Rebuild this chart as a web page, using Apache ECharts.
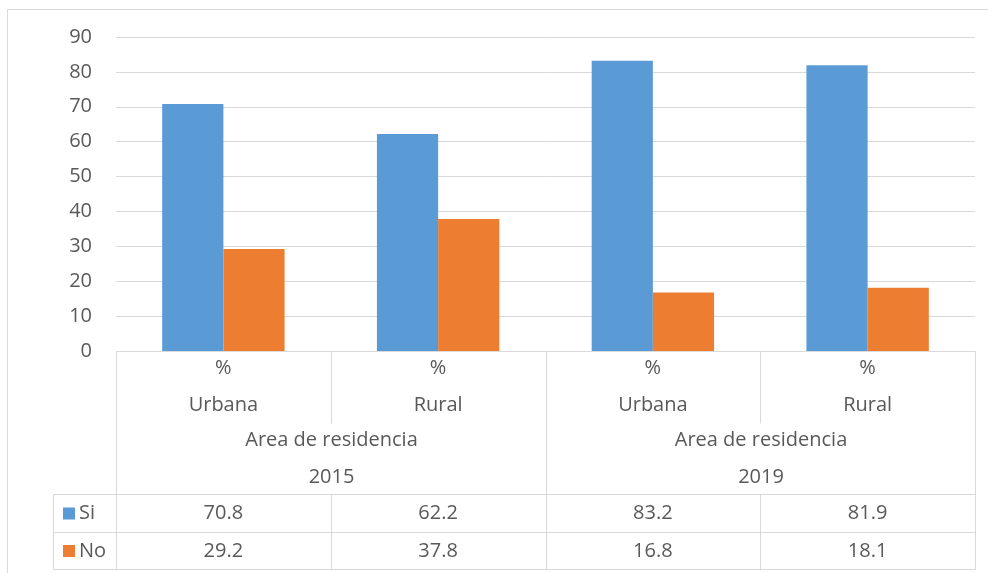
<!DOCTYPE html>
<html><head><meta charset="utf-8">
<script src="https://cdn.jsdelivr.net/npm/echarts@6/dist/echarts.min.js"></script>
<style>html,body{margin:0;padding:0;background:#fff}#c{width:988px;height:573px}</style>
</head><body><div id="c"></div>
<script>
// ---- data ----
const categories = ['Urbana', 'Rural', 'Urbana', 'Rural'];
const units = ['%', '%', '%', '%'];
const groupTitle = 'Area de residencia';
const years = ['2015', '2019'];
const seriesNames = ['Si', 'No'];
const siValues = [70.8, 62.2, 83.2, 81.9];
const noValues = [29.2, 37.8, 16.8, 18.1];
const yMin = 0, yMax = 90, yInterval = 10;

// ---- style ----
const colors = ['#5B9BD5', '#ED7D31'];
const textColor = '#595959';
const lineColor = '#D9D9D9';
const FONT = '20px "Open Sans", "Noto Sans", sans-serif';

const chart = echarts.init(document.getElementById('c'), null, {renderer: 'canvas'});
const grid = {left: 116, right: 13, top: 37, bottom: 222};

const option = {
  animation: false,
  backgroundColor: '#fff',
  grid: grid,
  xAxis: {
    type: 'category', data: categories,
    axisLine: {show: false}, axisTick: {show: false}, axisLabel: {show: false}
  },
  yAxis: {
    type: 'value', min: yMin, max: yMax, interval: yInterval,
    axisLine: {show: false}, axisTick: {show: false},
    axisLabel: {color: textColor, fontSize: 20, fontFamily: '"Open Sans", "Noto Sans", sans-serif', margin: 24},
    splitLine: {lineStyle: {color: lineColor, width: 1}}
  },
  series: [
    {name: seriesNames[0], type: 'bar', data: siValues, itemStyle: {color: colors[0]}, barGap: '0%', barCategoryGap: '43%'},
    {name: seriesNames[1], type: 'bar', data: noValues, itemStyle: {color: colors[1]}, barGap: '0%', barCategoryGap: '43%'}
  ]
};
chart.setOption(option);

// ---- data table drawn below the plot ----
const g = [];
function line(x1, y1, x2, y2) {
  g.push({type: 'line', silent: true, shape: {x1: x1, y1: y1, x2: x2, y2: y2},
    style: {stroke: lineColor, lineWidth: 1}});
}
function text(t, x, y, align) {
  g.push({type: 'text', silent: true, x: x, y: y,
    style: {text: t, fill: textColor, font: FONT, align: align || 'center', verticalAlign: 'middle',
      textAlign: align || 'center', textVerticalAlign: 'middle'}});
}
const centers = categories.map((c, i) => chart.convertToPixel({xAxisIndex: 0}, i));
const half = (centers[1] - centers[0]) / 2;
const bounds = [centers[0] - half].concat(centers.map(c => c + half)).map(v => Math.round(v) + 0.5);
const y0 = Math.round(chart.convertToPixel({yAxisIndex: 0}, 0)) + 0.5;
const rowSplit = 423.5, rowA = 494.5, rowB = 532.5, rowC = 569.5;
const legendLeft = 53.5;

// outer frame
line(7.5, 9.5, 988, 9.5);
line(7.5, 9.5, 7.5, 573);
// table grid
line(bounds[0], y0, bounds[4], y0);
line(legendLeft, rowA, bounds[4], rowA);
line(legendLeft, rowB, bounds[4], rowB);
line(legendLeft, rowC, bounds[4], rowC);
line(legendLeft, rowA, legendLeft, rowC);
bounds.forEach((b, i) => {
  if (i === 1 || i === 3) {
    line(b, y0, b, rowSplit);
    line(b, rowA, b, rowC);
  } else {
    line(b, y0, b, rowC);
  }
});
// category header texts
categories.forEach((c, i) => {
  text(units[i], centers[i], 368);
  text(c, centers[i], 405);
});
years.forEach((yr, k) => {
  const cx = (bounds[2 * k] + bounds[2 * k + 2]) / 2;
  text(groupTitle, cx, 440);
  text(yr, cx, 477);
});
// value rows
[siValues, noValues].forEach((vals, r) => {
  const cy = r === 0 ? (rowA + rowB) / 2 : (rowB + rowC) / 2;
  g.push({type: 'rect', silent: true, shape: {x: 63, y: cy - 6, width: 12, height: 12}, style: {fill: colors[r]}});
  text(seriesNames[r], 79, cy, 'left');
  vals.forEach((v, i) => text(v.toFixed(1), centers[i], cy));
});
chart.setOption({graphic: {elements: g}});
</script></body></html>
